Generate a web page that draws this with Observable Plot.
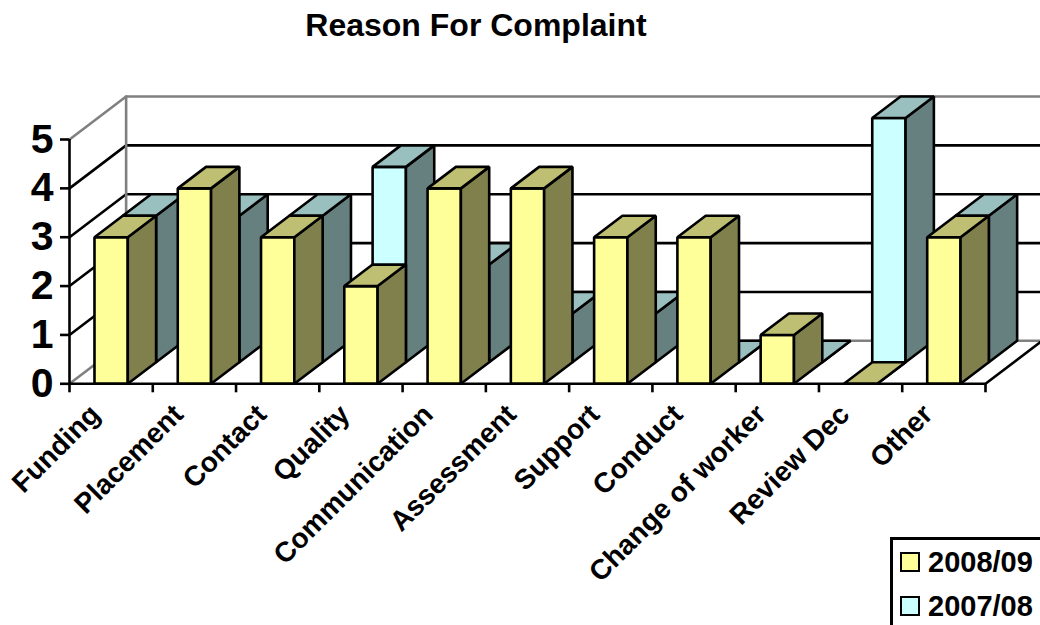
<!DOCTYPE html>
<html>
<head>
<meta charset="utf-8">
<script src="https://cdn.jsdelivr.net/npm/d3@7"></script>
<script src="https://cdn.jsdelivr.net/npm/@observablehq/plot@0.6"></script>
<style>
  html, body { margin: 0; padding: 0; background: #fff; overflow: hidden; }
  body { position: relative; width: 1040px; height: 625px; font-family: "Liberation Sans", Arial, sans-serif; }
  #title { position: absolute; left: 0; top: 7px; width: 952px; text-align: center; font-size: 32px; font-weight: bold; color: #000; }
  #legend { position: absolute; left: 890px; top: 537px; width: 170px; height: 110px; border: 3px solid #000; box-sizing: border-box; }
  #legend div { position: absolute; left: 35px; font-size: 29px; font-weight: bold; line-height: 33px; color: #000; white-space: nowrap; }
  #legend i { position: absolute; left: -28px; top: 6px; width: 16px; height: 16px; border: 2.5px solid #000; }
</style>
</head>
<body>
<div id="title">Reason For Complaint</div>
<div id="legend"></div>
<script>
const categories = ["Funding", "Placement", "Contact", "Quality", "Communication", "Assessment", "Support", "Conduct", "Change of worker", "Review Dec", "Other"];
const values0809 = [3, 4, 3, 2, 4, 4, 3, 3, 1, 0, 3];
const values0708 = [3, 3, 3, 4, 2, 1, 1, 0, 0, 5, 3];
const valueTicks = [0, 1, 2, 3, 4, 5];

const yellow = {front: "#ffff99", side: "#80804d", top: "#bfbf73"};
const cyan = {front: "#ccffff", side: "#668080", top: "#99bfbf"};

// Oblique projection: unit depth shifts a point along both data axes.
const depthX = 0.68;
const depthY = 0.88;
const at = (x, y, d) => ({x: x + d * depthX, y: y + d * depthY});

// Three visible faces of one bar, as closed polygons in data units.
function barFaces(index, value, depth, palette, key) {
  const x0 = index + 0.3, x1 = index + 0.7, d0 = depth, d1 = depth + 0.5;
  const faces = [
    ["front", [[x0, 0, d0], [x1, 0, d0], [x1, value, d0], [x0, value, d0]]],
    ["side", [[x1, 0, d0], [x1, 0, d1], [x1, value, d1], [x1, value, d0]]],
    ["top", [[x0, value, d0], [x1, value, d0], [x1, value, d1], [x0, value, d1]]]
  ];
  return faces.flatMap(([name, pts]) =>
    pts.map(([x, y, d]) => ({...at(x, y, d), face: `${key}-${index}-${name}`, shade: palette[name]}))
  );
}

const backBars = values0708.flatMap((v, i) => barFaces(i, v, 0.5, cyan, "b"));
const frontBars = values0809.flatMap((v, i) => barFaces(i, v, 0, yellow, "f"));
const last = categories.length;

// Wall outline for one value level: up the side wall, then along the back wall.
const level = v => [at(0, v, 0), at(0, v, 1), at(last, v, 1)].map(p => ({...p, level: v}));
const innerLevels = valueTicks.filter(v => v > 0 && v < 5).flatMap(level);
const outerLevels = [0, 5].flatMap(level);

const lineWeight = 2.6;

const barMark = data => Plot.line(data, {
  x: "x", y: "y", z: "face", fill: "shade",
  stroke: "#000", strokeWidth: lineWeight, strokeLinejoin: "miter", curve: "linear-closed"
});

const chart = Plot.plot({
  width: 1040,
  height: 625,
  marginLeft: 69,
  marginRight: 55,
  marginTop: 139,
  marginBottom: 241.7,
  style: {fontFamily: "'Liberation Sans', Arial, sans-serif", background: "transparent", color: "#000"},
  x: {domain: [0, last]},
  y: {domain: [0, 5]},
  color: {type: "identity"},
  marks: [
    Plot.line(innerLevels, {x: "x", y: "y", z: "level", stroke: "#000", strokeWidth: lineWeight, strokeLinejoin: "miter"}),
    Plot.line(outerLevels, {x: "x", y: "y", z: "level", stroke: "#808080", strokeWidth: lineWeight, strokeLinejoin: "miter"}),
    Plot.line([at(0, 0, 1), at(0, 5, 1)], {x: "x", y: "y", stroke: "#808080", strokeWidth: lineWeight}),
    Plot.line([at(last, 0, 0), at(last, 0, 1)], {x: "x", y: "y", stroke: "#000", strokeWidth: lineWeight}),
    barMark(backBars),
    barMark(frontBars),
    Plot.ruleX([0], {y1: 0, y2: 5, stroke: "#000", strokeWidth: lineWeight}),
    Plot.ruleY([0], {x1: 0, x2: last, stroke: "#000", strokeWidth: lineWeight}),
    Plot.axisY({
      ticks: valueTicks, tickFormat: d3.format("d"), label: null,
      tickSize: 9, tickPadding: 7, strokeWidth: lineWeight, stroke: "#000",
      fontSize: 41, fontWeight: "bold", fill: "#000"
    }),
    Plot.axisX({
      ticks: d3.range(last + 1), tickFormat: () => "", label: null,
      tickSize: 9, strokeWidth: lineWeight, stroke: "#000"
    }),
    Plot.axisX({
      ticks: categories.map((_, i) => i + 0.5),
      tickFormat: t => categories[t - 0.5], label: null,
      tickSize: 0, tickPadding: 26, tickRotate: -45, dx: -16,
      fontSize: 28, fontWeight: "bold", fill: "#000", textAnchor: "end"
    })
  ]
});
chart.style.position = "absolute";
chart.style.left = "0";
chart.style.top = "0";
document.body.prepend(chart);

// Legend entries, stacked inside the clipped box at the lower right.
const legendEntries = [["2008/09", yellow.front], ["2007/08", cyan.front]];
const legend = d3.select("#legend");
legendEntries.forEach(([label, colour], i) => {
  const row = legend.append("div").style("top", `${6 + i * 44}px`).text(label);
  row.append("i").style("background", colour);
});
</script>
</body>
</html>
